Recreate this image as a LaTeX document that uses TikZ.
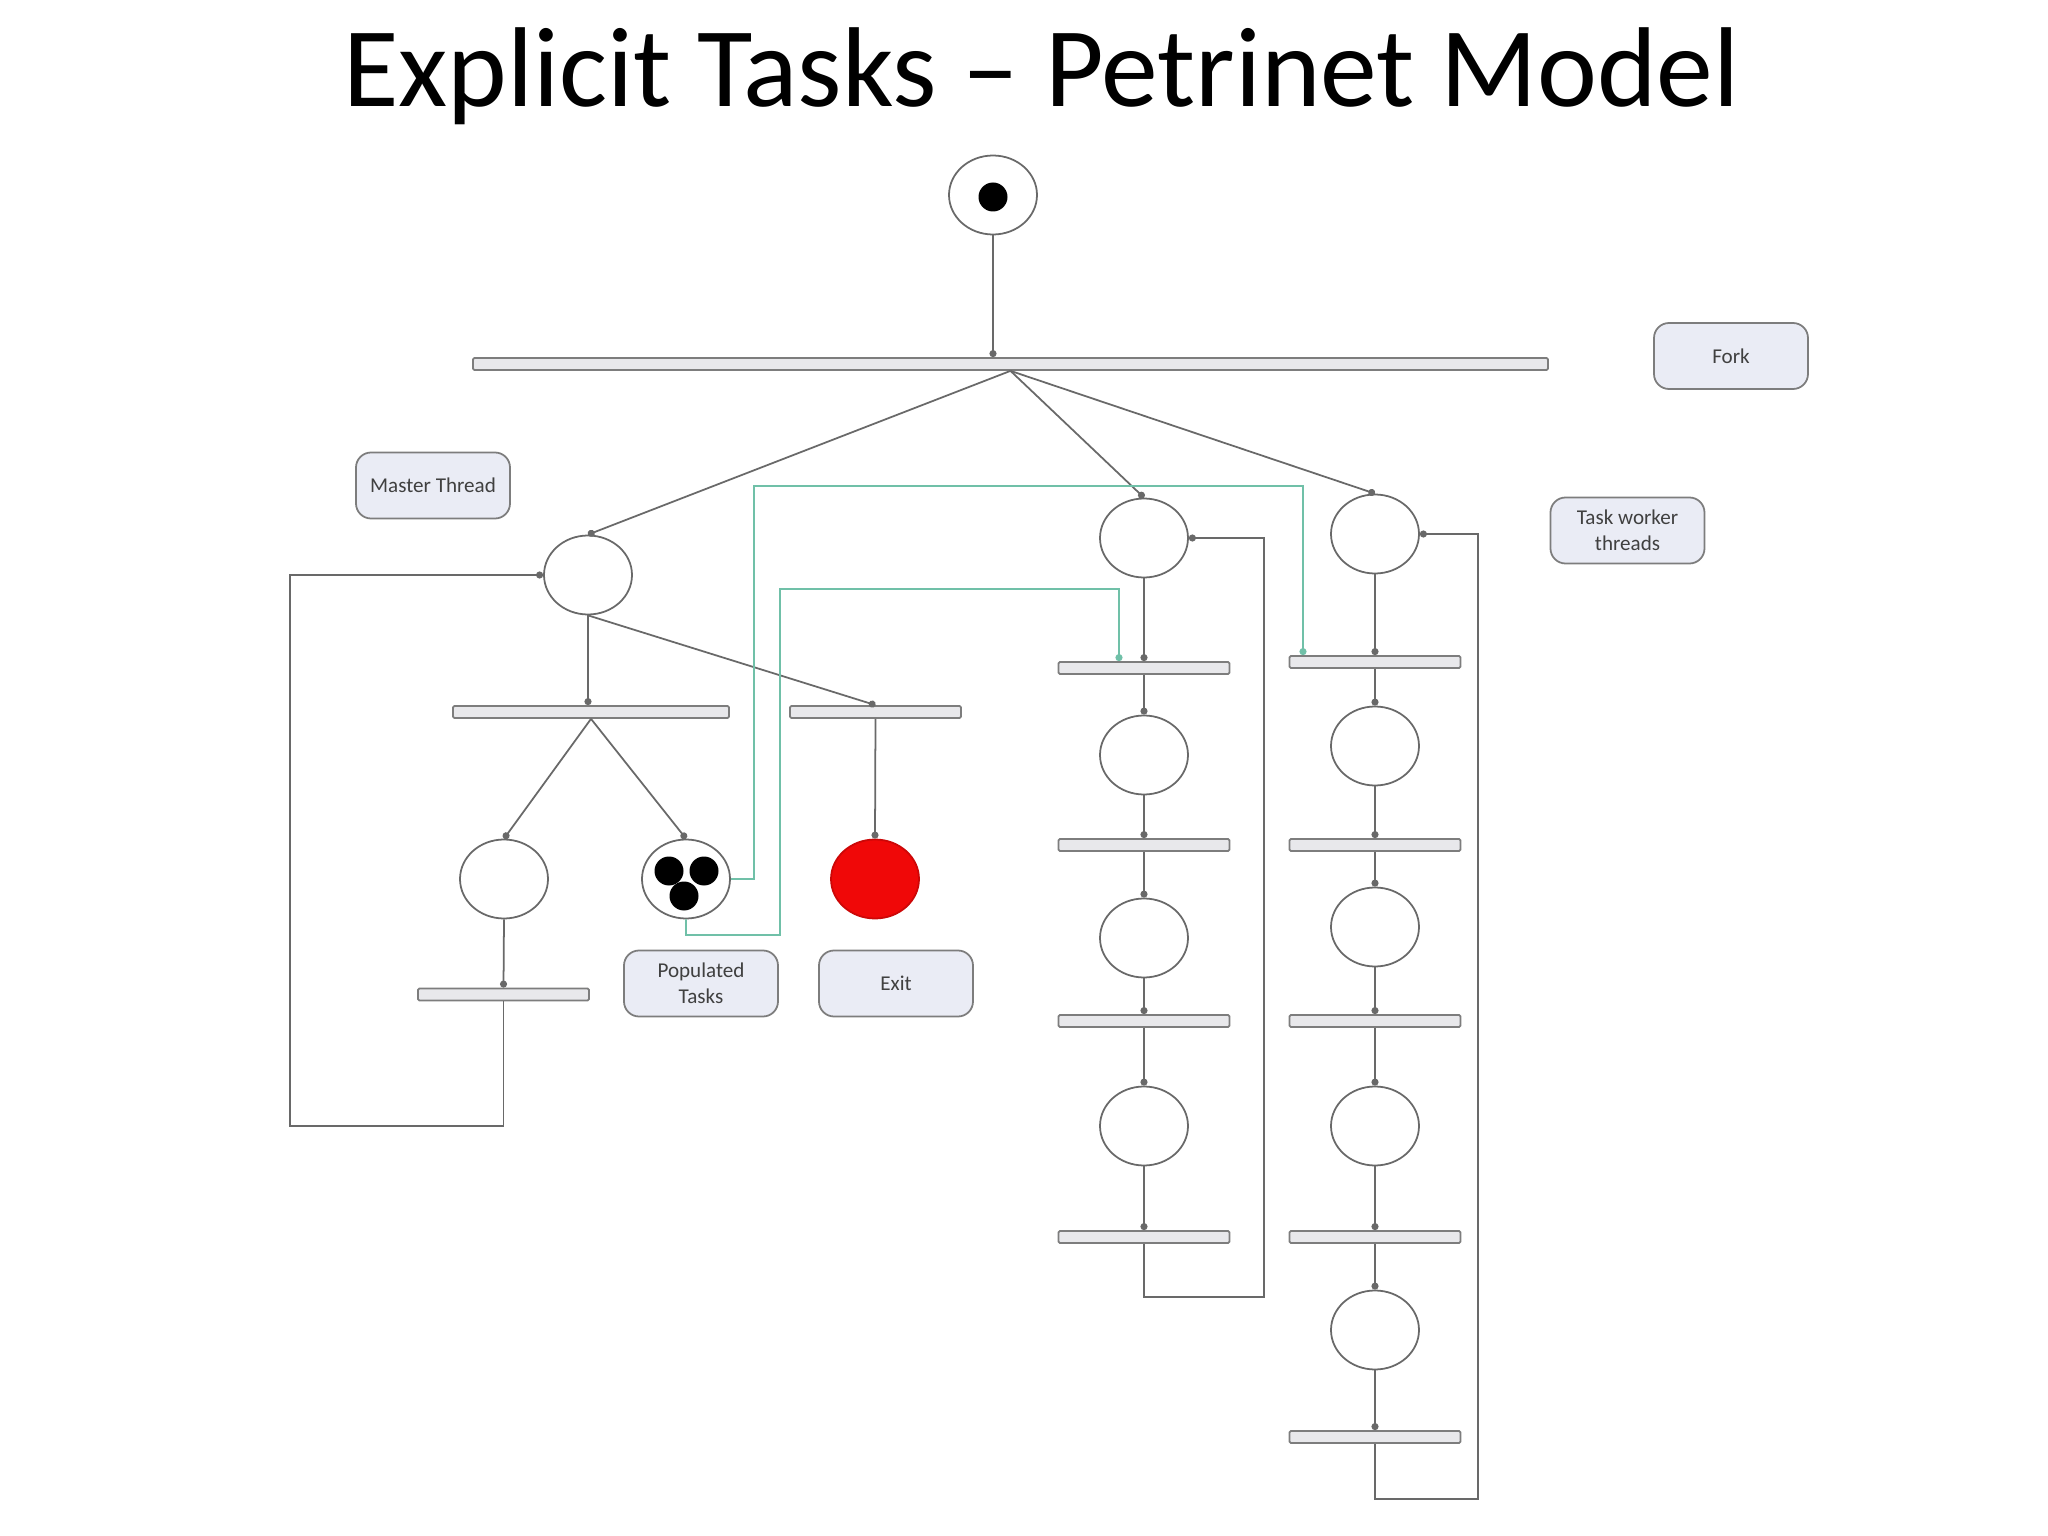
\documentclass[tikz,border=0pt]{standalone}
\usepackage{fontspec}
\setmainfont{Carlito}
\usepackage{tikz}
\usetikzlibrary{shapes.geometric,arrows.meta}

\definecolor{arcgray}{RGB}{105,105,105}
\definecolor{bargray}{RGB}{125,125,125}
\definecolor{barfill}{RGB}{232,232,235}
\definecolor{tagfill}{RGB}{234,236,245}
\definecolor{feedgreen}{RGB}{112,192,168}
\definecolor{exitred}{RGB}{240,8,8}

\tikzset{
  place/.style={ellipse, draw=arcgray, line width=0.5pt, fill=white,
    minimum width=0.88cm, minimum height=0.79cm, inner sep=0pt},
  trans/.style={rectangle, draw=bargray, fill=barfill, line width=0.5pt,
    minimum width=1.71cm, minimum height=0.12cm, inner sep=0pt, rounded corners=0.4pt},
  token/.style={circle, fill=black, minimum size=0.29cm, inner sep=0pt},
  tag/.style={rectangle, rounded corners=0.15cm, draw=bargray, fill=tagfill, line width=0.5pt,
    minimum width=1.54cm, minimum height=0.66cm, align=center, inner sep=1pt,
    font=\fontsize{6}{7.3}\selectfont, text=black!75},
  arc/.style={draw=arcgray, line width=0.5pt, -{Circle[length=2pt]}},
  feed/.style={draw=feedgreen, line width=0.5pt, -{Circle[length=2pt]}},
}

\begin{document}
\begin{tikzpicture}
  \fill[white] (0,0) rectangle (20.48,-15.36);
  \node[anchor=base] (title) at (10.415,-1.07) {\fontsize{32.3}{37}\selectfont Explicit Tasks – Petrinet Model};

  % start place and fork
  \node[place] (start) at (9.93,-1.95) {};
  \node[token] (starttok) at (9.93,-1.97) {};
  \node[trans, minimum width=10.75cm] (fork) at (10.105,-3.64) {};
  \node[tag] (forktag) at (17.31,-3.56) {Fork};
  \node[tag] (mastertag) at (4.33,-4.855) {Master Thread};
  \node[tag] (workertag) at (16.275,-5.305) {Task worker\\threads};

  % master thread
  \node[place] (m) at (5.88,-5.75) {};
  \node[trans, minimum width=2.76cm] (mfork) at (5.91,-7.12) {};
  \node[trans] (mexit) at (8.755,-7.12) {};
  \node[place] (mloop) at (5.04,-8.79) {};
  \node[place] (pop) at (6.86,-8.79) {};
  \node[token] (tok1) at (6.69,-8.71) {};
  \node[token] (tok2) at (7.04,-8.71) {};
  \node[token] (tok3) at (6.84,-8.96) {};
  \node[place, fill=exitred, draw=exitred!85!black] (exit) at (8.75,-8.79) {};
  \node[trans] (mstep) at (5.035,-9.945) {};
  \node[tag] (poptag) at (7.01,-9.835) {Populated\\Tasks};
  \node[tag] (exittag) at (8.96,-9.835) {Exit};

  % worker thread 1
  \node[place] (w1p1) at (11.44,-5.38) {};
  \node[trans] (w1t1) at (11.44,-6.68) {};
  \node[place] (w1p2) at (11.44,-7.55) {};
  \node[trans] (w1t2) at (11.44,-8.45) {};
  \node[place] (w1p3) at (11.44,-9.38) {};
  \node[trans] (w1t3) at (11.44,-10.21) {};
  \node[place] (w1p4) at (11.44,-11.26) {};
  \node[trans] (w1t4) at (11.44,-12.37) {};

  % worker thread 2
  \node[place] (w2p1) at (13.75,-5.34) {};
  \node[trans] (w2t1) at (13.75,-6.62) {};
  \node[place] (w2p2) at (13.75,-7.46) {};
  \node[trans] (w2t2) at (13.75,-8.45) {};
  \node[place] (w2p3) at (13.75,-9.27) {};
  \node[trans] (w2t3) at (13.75,-10.21) {};
  \node[place] (w2p4) at (13.75,-11.26) {};
  \node[trans] (w2t4) at (13.75,-12.37) {};
  \node[place] (w2p5) at (13.75,-13.30) {};
  \node[trans] (w2t5) at (13.75,-14.37) {};

  % arcs
  \draw[arc] (start.south) -- (start.south |- fork.north);
  \draw[arc] (fork.south) -- (m.north);
  \draw[arc] (fork.south) -- (w1p1.north);
  \draw[arc] (fork.south) -- (w2p1.north);

  \draw[arc] (m.south) -- (m.south |- mfork.north);
  \draw[arc] (m.south) -- (mexit.north);
  \draw[arc] (mfork.south) -- (mloop.north);
  \draw[arc] (mfork.south) -- (pop.north);
  \draw[arc] (mexit.south) -- (exit.north);
  \draw[arc] (mloop.south) -- (mstep.north);
  \draw[arc] (mstep.south) |- (2.90,-11.26) |- (m.west);

  \draw[arc] (w1p1) -- (w1t1.north);
  \draw[arc] (w1t1) -- (w1p2.north);
  \draw[arc] (w1p2) -- (w1t2.north);
  \draw[arc] (w1t2) -- (w1p3.north);
  \draw[arc] (w1p3) -- (w1t3.north);
  \draw[arc] (w1t3) -- (w1p4.north);
  \draw[arc] (w1p4) -- (w1t4.north);
  \draw[arc] (w1t4.south) |- (12.64,-12.97) |- (w1p1.east);

  \draw[arc] (w2p1) -- (w2t1.north);
  \draw[arc] (w2t1) -- (w2p2.north);
  \draw[arc] (w2p2) -- (w2t2.north);
  \draw[arc] (w2t2) -- (w2p3.north);
  \draw[arc] (w2p3) -- (w2t3.north);
  \draw[arc] (w2t3) -- (w2p4.north);
  \draw[arc] (w2p4) -- (w2t4.north);
  \draw[arc] (w2t4) -- (w2p5.north);
  \draw[arc] (w2p5) -- (w2t5.north);
  \draw[arc] (w2t5.south) |- (14.78,-14.99) |- (w2p1.east);

  % populated tasks feeding the workers
  \draw[feed] (pop.east) -| (7.54,-4.86) -| ([xshift=-0.72cm]w2t1.north);
  \draw[feed] (pop.south) |- (7.80,-9.35) |- (11.19,-5.89) -- ([xshift=-0.25cm]w1t1.north);
\end{tikzpicture}
\end{document}
